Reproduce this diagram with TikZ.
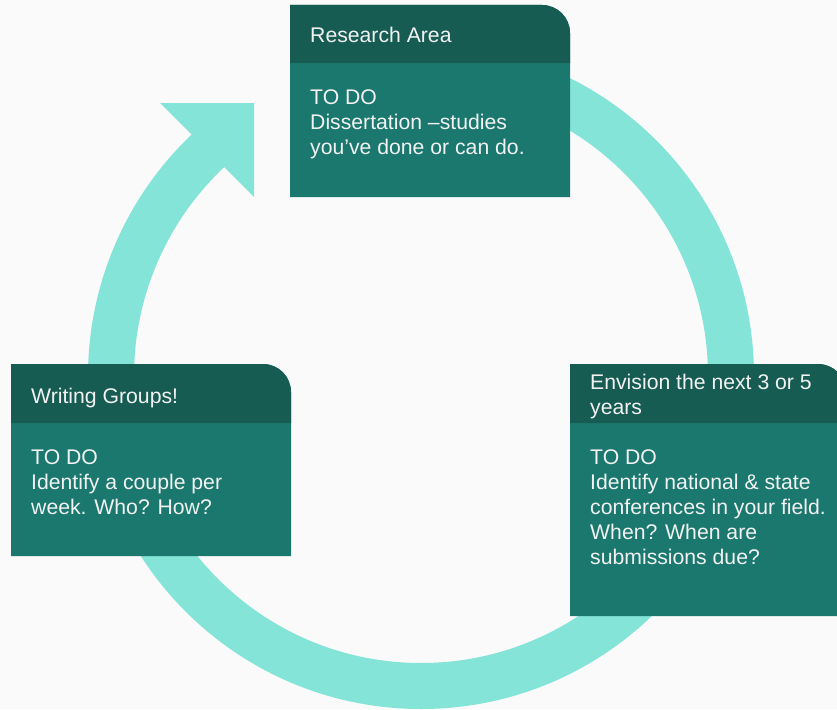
\documentclass[tikz,border=0pt]{standalone}
\usepackage{fontspec}
\setmainfont{Liberation Sans}
\definecolor{bgc}{HTML}{FAFAFA}
\definecolor{ringc}{HTML}{84E4D8}
\definecolor{hdrc}{HTML}{165C52}
\definecolor{bodyc}{HTML}{1B786E}
\definecolor{txtc}{HTML}{F2F2F2}
\begin{document}
\begin{tikzpicture}[x=1pt,y=-1pt,
  ring/.style={draw=ringc,line width=46pt},
  head/.style={fill=ringc},
  hdr/.style={fill=hdrc},
  bodyfill/.style={fill=bodyc},
  txt/.style={anchor=base west,inner sep=0pt,text=txtc,align=left,
    font=\fontsize{21.2pt}{25.2pt}\selectfont}]
\useasboundingbox (0,0) rectangle (837,709);
\clip (0,0) rectangle (837,709);
\fill[bgc] (0,0) rectangle (837,709);
% cycle ring
\coordinate (ringstart) at (421,66);
\draw[ring] (ringstart) arc[start angle=-90,end angle=227,radius=310];
\fill[head] (160,103) -- (254,103) -- (254,197) -- cycle;
% Research Area box
\fill[bodyfill] (290,197) -- (290,5) -- (542,5) arc[start angle=-90,end angle=0,radius=28] -- (570,197) -- cycle;
\fill[hdr] (290,63) -- (290,5) -- (542,5) arc[start angle=-90,end angle=0,radius=28] -- (570,63) -- cycle;
% Writing Groups box
\fill[bodyfill] (11,556) -- (11,364) -- (263,364) arc[start angle=-90,end angle=0,radius=28] -- (291,556) -- cycle;
\fill[hdr] (11,423) -- (11,364) -- (263,364) arc[start angle=-90,end angle=0,radius=28] -- (291,423) -- cycle;
% Envision box
\fill[bodyfill] (570,616) -- (570,364) -- (818,364) arc[start angle=-90,end angle=0,radius=28] -- (846,616) -- cycle;
\fill[hdr] (570,423) -- (570,364) -- (818,364) arc[start angle=-90,end angle=0,radius=28] -- (846,423) -- cycle;
% texts (base anchor = baseline of the last line)
\node[txt] (rh) at (310,43) {Research Area};
\node[txt] (rb) at (310,154.4) {TO DO\\Dissertation –studies\\you’ve done or can do.};
\node[txt] (wh) at (31,403) {Writing Groups!};
\node[txt] (wb) at (31,514.4) {TO DO\\Identify a couple per\\week. Who? How?};
\node[txt] (eh) at (590,414.5) {Envision the next 3 or 5\\years};
\node[txt] (eb) at (590,564.8) {TO DO\\Identify national \& state\\conferences in your field.\\When? When are\\submissions due?};
\end{tikzpicture}
\end{document}
